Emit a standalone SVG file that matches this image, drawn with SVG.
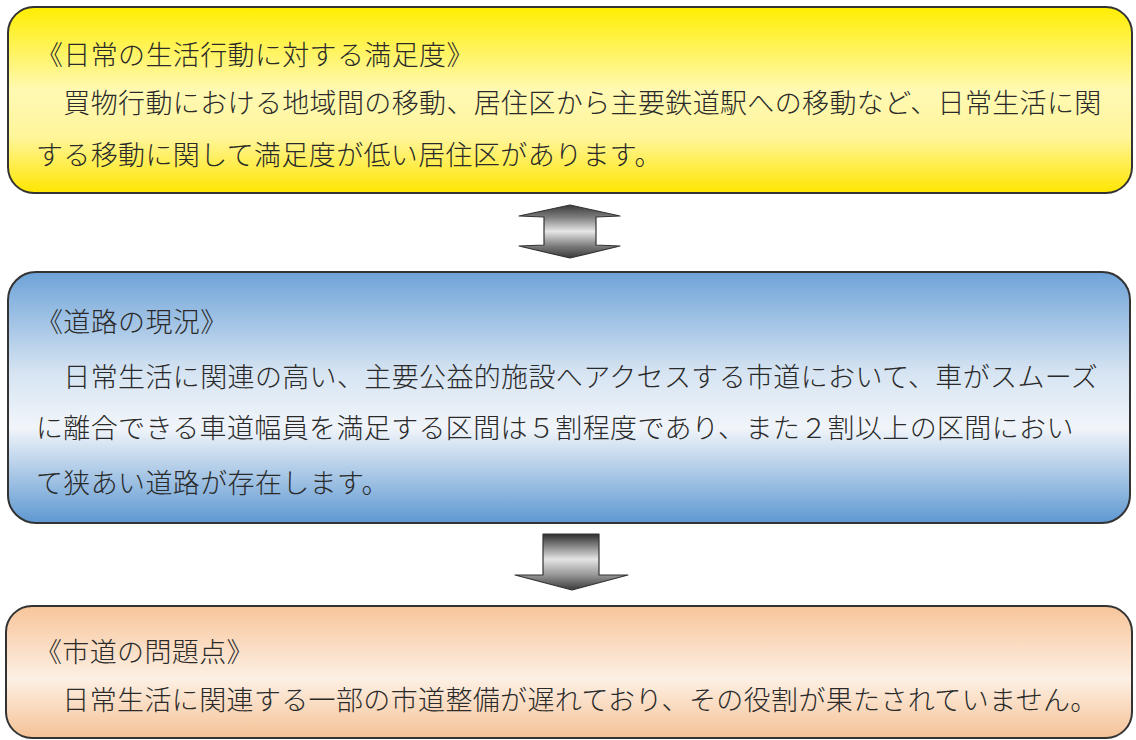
<svg xmlns="http://www.w3.org/2000/svg" width="1136" height="740" viewBox="0 0 1136 740">
<defs>
<linearGradient id="gYellow" x1="0" y1="0" x2="0" y2="1">
<stop offset="0" stop-color="#FFEE00"/>
<stop offset="0.45" stop-color="#FFF9B4"/>
<stop offset="0.7" stop-color="#FFF59A"/>
<stop offset="1" stop-color="#FFE600"/>
</linearGradient>
<linearGradient id="gBlue" x1="0" y1="0" x2="0" y2="1">
<stop offset="0" stop-color="#6EA3D8"/>
<stop offset="0.4" stop-color="#D6E4F2"/>
<stop offset="0.62" stop-color="#F1F5FA"/>
<stop offset="1" stop-color="#5E98D1"/>
</linearGradient>
<linearGradient id="gPeach" x1="0" y1="0" x2="0" y2="1">
<stop offset="0" stop-color="#F7C59A"/>
<stop offset="0.55" stop-color="#FDF0E4"/>
<stop offset="1" stop-color="#F5C296"/>
</linearGradient>
<linearGradient id="gArrow2" x1="0" y1="0" x2="0" y2="1">
<stop offset="0" stop-color="#3a3a3a"/>
<stop offset="0.22" stop-color="#7a7a7a"/>
<stop offset="0.5" stop-color="#e6e6e6"/>
<stop offset="0.78" stop-color="#7a7a7a"/>
<stop offset="1" stop-color="#3a3a3a"/>
</linearGradient>
<linearGradient id="gArrow1" x1="0" y1="0" x2="0" y2="1">
<stop offset="0" stop-color="#2e2e2e"/>
<stop offset="0.45" stop-color="#e4e4e4"/>
<stop offset="0.72" stop-color="#9a9a9a"/>
<stop offset="1" stop-color="#3a3a3a"/>
</linearGradient>
</defs>
<style>
.box{stroke:#333;stroke-width:2}
.t{font-family:"Noto Sans CJK JP","Noto Sans CJK SC",sans-serif;font-size:27px;font-weight:300;letter-spacing:0.36px;fill:#2a2a2a}
.arr{stroke:#333;stroke-width:1.2;stroke-linejoin:round}
</style>
<rect width="1136" height="740" fill="#ffffff"/>
<g id="node-satisfaction">
<rect class="box" x="8" y="7" width="1124" height="186" rx="26" fill="url(#gYellow)"/>
<text class="t" x="36" y="65">《日常の生活行動に対する満足度》</text>
<text class="t" x="36" y="113">　買物行動における地域間の移動、居住区から主要鉄道駅への移動など、日常生活に関</text>
<text class="t" x="36" y="165">する移動に関して満足度が低い居住区があります。</text>
</g>
<g id="node-road">
<rect class="box" x="8" y="272" width="1122" height="251" rx="28" fill="url(#gBlue)"/>
<text class="t" x="36" y="332">《道路の現況》</text>
<text class="t" x="36" y="387">　日常生活に関連の高い、主要公益的施設へアクセスする市道において、車がスムーズ</text>
<text class="t" x="36" y="438">に離合できる車道幅員を満足する区間は５割程度であり、また２割以上の区間におい</text>
<text class="t" x="36" y="493">て狭あい道路が存在します。</text>
</g>
<g id="node-problem">
<rect class="box" x="6" y="606" width="1126" height="132" rx="26" fill="url(#gPeach)"/>
<text class="t" x="35" y="662">《市道の問題点》</text>
<text class="t" x="35" y="710">　日常生活に関連する一部の市道整備が遅れており、その役割が果たされていません。</text>
</g>
<g id="connectors">
<polygon class="arr" fill="url(#gArrow2)" points="570,205 620,216 596,217 596,245 620,246 570,258 519,246 544,245 544,217 519,216"/>
<polygon class="arr" fill="url(#gArrow1)" points="543,534 599,534 599,575 628,575 572,590 515,575 543,575"/>
</g>
</svg>
